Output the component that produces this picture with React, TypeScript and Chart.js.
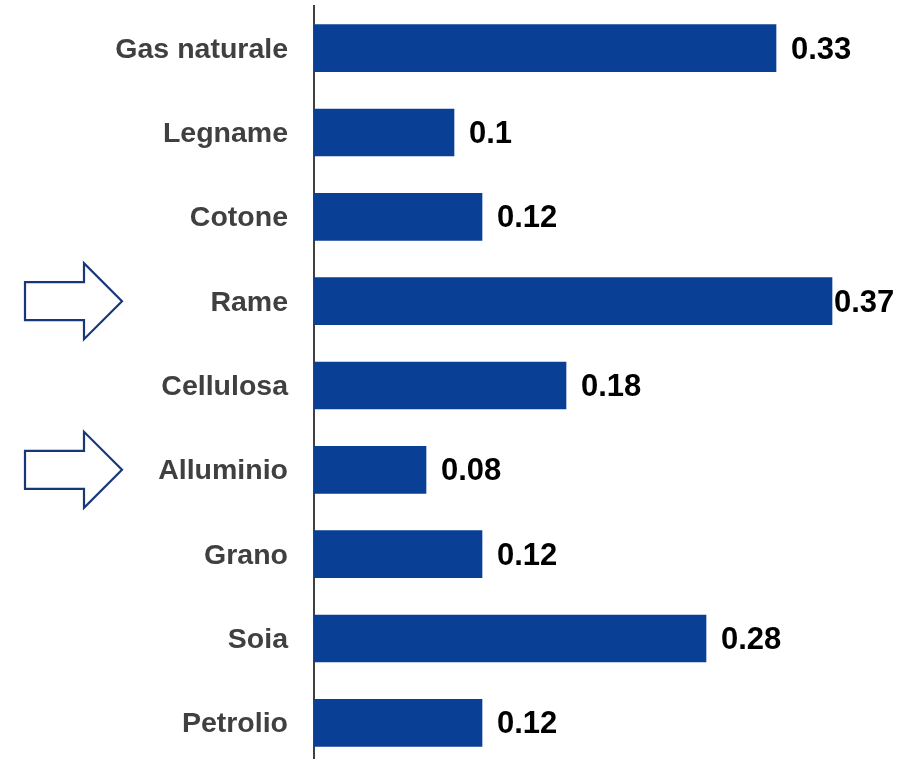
import React, { useEffect, useRef } from "react";
import { Chart, registerables } from "chart.js";

Chart.register(...registerables);

const categories = [
  "Gas naturale",
  "Legname",
  "Cotone",
  "Rame",
  "Cellulosa",
  "Alluminio",
  "Grano",
  "Soia",
  "Petrolio",
];
const values = [0.33, 0.1, 0.12, 0.37, 0.18, 0.08, 0.12, 0.28, 0.12];
const highlighted = ["Rame", "Alluminio"];

const BAR_COLOR = "#0A3F96";
const AXIS_COLOR = "#404040";
const ARROW_COLOR = "#173878";
const FONT = "'Liberation Sans', Arial, sans-serif";

export default function App() {
  const ref = useRef<HTMLCanvasElement | null>(null);

  useEffect(() => {
    const canvas = ref.current;
    if (!canvas) return;

    const valueLabels = {
      id: "valueLabels",
      afterDatasetsDraw(chart: any) {
        const ctx = chart.ctx;
        const meta = chart.getDatasetMeta(0);
        ctx.save();
        ctx.font = `bold 31px ${FONT}`;
        ctx.fillStyle = "#000000";
        ctx.textBaseline = "middle";
        ctx.textAlign = "left";
        meta.data.forEach((bar: any, i: number) => {
          const txt = String(values[i]);
          const w = ctx.measureText(txt).width;
          let x = bar.x + 15;
          const maxRight = chart.width - 18;
          if (x + w > maxRight) x = Math.max(bar.x + 2, maxRight - w);
          ctx.fillText(txt, x, bar.y + 2);
        });
        ctx.restore();
      },
    };

    const arrows = {
      id: "arrows",
      afterDraw(chart: any) {
        const ctx = chart.ctx;
        const yScale = chart.scales.y;
        ctx.save();
        ctx.strokeStyle = ARROW_COLOR;
        ctx.fillStyle = "#ffffff";
        ctx.lineWidth = 2.2;
        ctx.lineJoin = "miter";
        highlighted.forEach((name) => {
          const idx = categories.indexOf(name);
          if (idx < 0) return;
          const cy = yScale.getPixelForValue(idx);
          const x0 = 25, xb = 84, xt = 122;
          const bh = 19, hh = 38;
          ctx.beginPath();
          ctx.moveTo(x0, cy - bh);
          ctx.lineTo(xb, cy - bh);
          ctx.lineTo(xb, cy - hh);
          ctx.lineTo(xt, cy);
          ctx.lineTo(xb, cy + hh);
          ctx.lineTo(xb, cy + bh);
          ctx.lineTo(x0, cy + bh);
          ctx.closePath();
          ctx.fill();
          ctx.stroke();
        });
        ctx.restore();
      },
    };

    const chart = new Chart(canvas, {
      type: "bar",
      data: {
        labels: categories,
        datasets: [
          {
            data: values,
            backgroundColor: BAR_COLOR,
            borderWidth: 0,
            barThickness: 47,
          },
        ],
      },
      options: {
        indexAxis: "y",
        animation: false,
        responsive: false,
        maintainAspectRatio: false,
        layout: { padding: { top: 6, right: 10, bottom: 0, left: 0 } },
        plugins: {
          legend: { display: false },
          tooltip: { enabled: false },
        },
        scales: {
          x: {
            display: false,
            min: 0,
            max: 0.42,
          },
          y: {
            grid: { display: false, drawTicks: false },
            border: { display: true, color: AXIS_COLOR, width: 2 },
            ticks: {
              color: AXIS_COLOR,
              font: { family: FONT, size: 28.5, weight: "bold" },
              padding: 26,
              labelOffset: 1.5,
            },
            afterFit(scale: any) {
              scale.width = 314;
              scale.paddingTop = 0;
              scale.paddingBottom = 0;
            },
          },
        },
      },
      plugins: [valueLabels, arrows],
    });

    return () => chart.destroy();
  }, []);

  return (
    <div
      style={{
        position: "fixed",
        left: 0,
        top: 0,
        width: 912,
        height: 759,
        overflow: "hidden",
        background: "#ffffff",
      }}
    >
      <canvas ref={ref} width={912} height={765} style={{ display: "block" }} />
    </div>
  );
}
